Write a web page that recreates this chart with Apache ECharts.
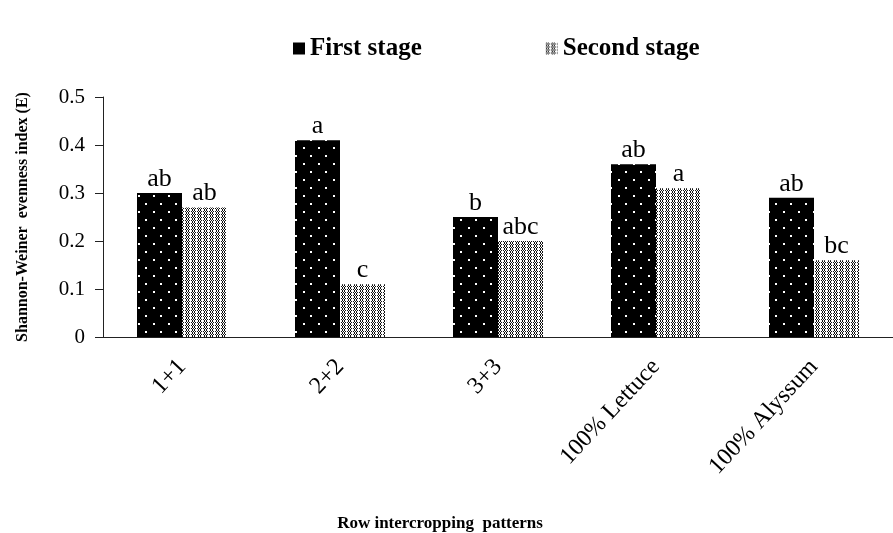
<!DOCTYPE html>
<html><head><meta charset="utf-8">
<script src="https://cdn.jsdelivr.net/npm/echarts@6/dist/echarts.min.js"></script>
<style>html,body{margin:0;padding:0;background:#fff}#c{width:893px;height:533px}</style>
</head><body><div id="c"></div>
<script>
const categories = ['1+1', '2+2', '3+3', '100% Lettuce', '100% Alyssum'];
const firstStage = [0.30, 0.41, 0.25, 0.36, 0.29];
const secondStage = [0.27, 0.11, 0.20, 0.31, 0.16];
const firstLetters = ['ab', 'a', 'b', 'ab', 'ab'];
const secondLetters = ['ab', 'c', 'abc', 'a', 'bc'];
const yTicks = [0, 0.1, 0.2, 0.3, 0.4, 0.5];

function patFirst() {
  const c = document.createElement('canvas'); c.width = 15; c.height = 16;
  const g = c.getContext('2d');
  g.fillStyle = '#000'; g.fillRect(0, 0, 15, 16);
  g.fillStyle = '#fff';
  g.fillRect(3, 3, 2, 2); g.fillRect(10, 11, 2, 2);
  return c;
}
function patSecond() {
  const c = document.createElement('canvas'); c.width = 6; c.height = 3;
  const g = c.getContext('2d');
  g.fillStyle = '#fff'; g.fillRect(0, 0, 6, 3);
  g.fillStyle = '#111';
  g.fillRect(0, 0, 1, 1); g.fillRect(2, 0, 1, 1);
  g.fillRect(1, 1, 1, 1); g.fillRect(3, 1, 1, 1);
  g.fillRect(0, 2, 1, 1); g.fillRect(2, 2, 1, 1);
  g.fillRect(5, 1, 1, 1);
  return c;
}
const serif = '"Liberation Serif", "Times New Roman", serif';
const chart = echarts.init(document.getElementById('c'), null, {renderer: 'canvas'});
const p1 = {image: patFirst(), repeat: 'repeat'};
const p2 = {image: patSecond(), repeat: 'repeat'};
chart.setOption({
  animation: false,
  backgroundColor: '#fff',
  grid: {left: 103, top: 97, width: 802, height: 240, containLabel: false},
  legend: {
    top: 31, left: 288, itemGap: 124, itemWidth: 12, itemHeight: 12,
    textStyle: {fontFamily: serif, fontWeight: 'bold', fontSize: 25, color: '#000'},
    data: [{name: 'First stage', icon: 'rect', itemStyle: {color: '#000'}},
           {name: 'Second stage', icon: 'rect', itemStyle: {color: p2}}]
  },
  xAxis: {
    type: 'category', data: categories,
    name: 'Row intercropping  patterns', nameLocation: 'middle', nameGap: 178,
    nameTextStyle: {fontFamily: serif, fontWeight: 'bold', fontSize: 17, color: '#000', padding: [0, 116, 0, 0]},
    axisLine: {lineStyle: {color: '#222', width: 1}},
    axisTick: {alignWithLabel: true, length: 6, lineStyle: {color: '#222'}},
    axisLabel: {rotate: 47, fontFamily: serif, fontSize: 24, color: '#000', margin: 26, interval: 0}
  },
  yAxis: {
    type: 'value', min: 0, max: 0.5, interval: 0.1,
    name: 'Shannon-Weiner  evenness index (E)', nameLocation: 'middle', nameGap: 72,
    nameTextStyle: {fontFamily: serif, fontWeight: 'bold', fontSize: 16, color: '#000'},
    splitLine: {show: false},
    axisLine: {show: true, lineStyle: {color: '#222', width: 1}},
    axisTick: {show: true, length: 8, lineStyle: {color: '#222'}},
    axisLabel: {fontFamily: serif, fontSize: 21, color: '#000', margin: 18,
      formatter: v => { const t = yTicks.find(x => Math.abs(x - v) < 1e-9); return t === undefined ? '' : String(t); }}
  },
  series: [
    {name: 'First stage', type: 'bar', data: firstStage, barWidth: 45, barGap: '0%',
     itemStyle: {color: p1},
     label: {show: true, position: 'top', distance: 1, fontFamily: serif, fontSize: 26, color: '#000',
       formatter: p => firstLetters[p.dataIndex]}},
    {name: 'Second stage', type: 'bar', data: secondStage, barWidth: 45, barGap: '0%',
     itemStyle: {color: p2},
     label: {show: true, position: 'top', distance: 1, fontFamily: serif, fontSize: 26, color: '#000',
       formatter: p => secondLetters[p.dataIndex]}}
  ]
});
</script></body></html>
